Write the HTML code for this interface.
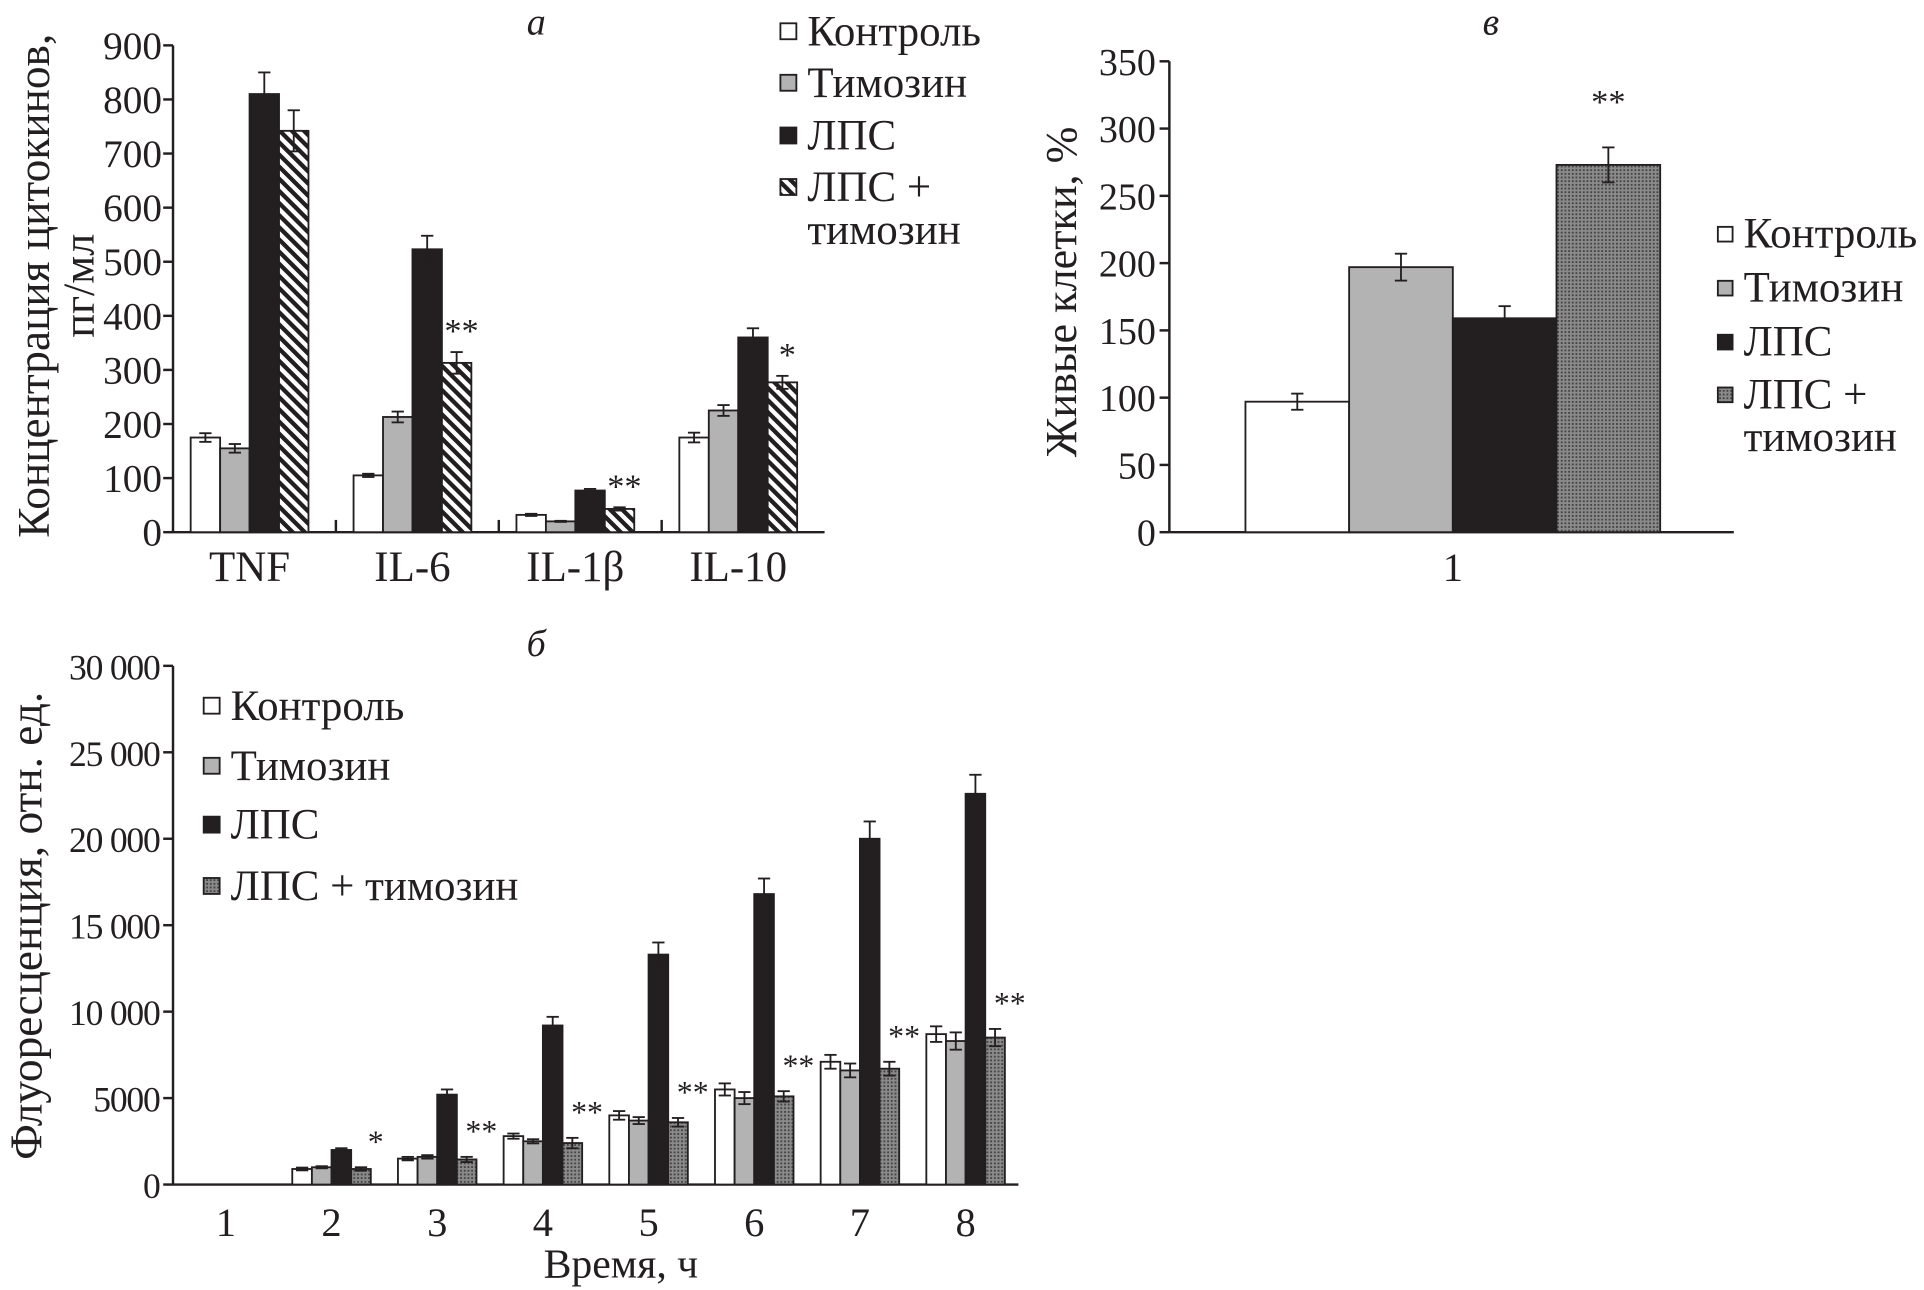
<!DOCTYPE html>
<html><head><meta charset="utf-8"><style>
html,body{margin:0;padding:0;background:#fff}
svg{display:block}
text{font-family:"Liberation Serif","DejaVu Serif",serif;fill:#231f20}
</style></head><body>
<svg id="fig" width="1924" height="1290" viewBox="0 0 1568 1052" preserveAspectRatio="none" xmlns="http://www.w3.org/2000/svg">
<defs>
<pattern id="hatch" width="7" height="7" patternUnits="userSpaceOnUse" patternTransform="rotate(-45)">
<rect width="7" height="7" fill="#fff"/><rect width="3.5" height="7" fill="#231f20"/></pattern>
<pattern id="dots" width="3" height="3" patternUnits="userSpaceOnUse">
<rect width="3" height="3" fill="#8a8a8a"/><rect width="1.5" height="1.5" fill="#444"/></pattern>
</defs>
<g id="ga"></g>
<g id="gb"></g>
<g id="gc"></g>
</svg>
<script>
// Chart a: cytokines
const catsA = ["TNF","IL-6","IL-1β","IL-10"];
const ctrlA = [175,105,32,175];
const thyA = [155,213,20,225];
const lpsA = [810,523,77,360];
const lpsThyA = [742,313,43,277];
const errCtrlA = [8,3,2,9];
const errThyA = [8,10,1,10];
const errLpsA = [40,25,3,17];
const errLpsThyA = [38,20,3,12];
const starsA = ["","**","**","*"];
const ticksA = [0,100,200,300,400,500,600,700,800,900];

// Chart b: fluorescence
const catsB = ["1","2","3","4","5","6","7","8"];
const ctrlB = [0,900,1500,2800,4000,5500,7100,8700];
const thyB = [0,1000,1600,2500,3700,5000,6600,8300];
const lpsB = [0,2000,5200,9200,13300,16800,20000,22600];
const lpsThyB = [0,900,1450,2400,3600,5100,6700,8500];
const errCtrlB = [0,80,100,150,250,350,400,450];
const errThyB = [0,60,100,120,200,350,400,500];
const errLpsB = [0,100,300,500,700,900,1000,1100];
const errLpsThyB = [0,100,150,300,250,300,400,500];
const starsB = ["","*","**","**","**","**","**","**"];
const ticksB = [0,5000,10000,15000,20000,25000,30000];
const tickLabelsB = ["0","5000","10 000","15 000","20 000","25 000","30 000"];

// Chart v: live cells
const catsV = ["1"];
const valsV = [97,197,159,273];
const errV = [6,10,9,13];
const starsV = ["**"];
const ticksV = [0,50,100,150,200,250,300,350];

const NS="http://www.w3.org/2000/svg";
function mk(p,tag,attrs,txt){const e=document.createElementNS(NS,tag);for(const k in attrs)e.setAttribute(k,attrs[k]);if(txt!==undefined)e.textContent=txt;p.appendChild(e);return e;}
const fills=["#fff","#b3b3b3","#231f20","url(#hatch)"];
const fillsB=["#fff","#b3b3b3","#231f20","url(#dots)"];
const sNames=["control","thymosin","lps","lps-thymosin"];

function axisY(g,x0,y0,yTop,max,ticks,labels,fs,lx,ls){
  const sy=v=>y0-(v/max)*(y0-yTop);
  let e=mk(g,"line",{x1:x0,y1:y0,x2:x0,y2:yTop,stroke:"#231f20","stroke-width":2});
  
  
  ticks.forEach((t,i)=>{
    mk(g,"line",{x1:x0-8,y1:sy(t),x2:x0,y2:sy(t),stroke:"#231f20","stroke-width":2});
    let tx=mk(g,"text",{x:lx,y:sy(t)+11,"text-anchor":"end","font-size":fs,"letter-spacing":ls||0},labels[i]);
    
    
  });
  return sy;
}
function bar(g,x,w,y0,yv,fill,name){
  const r=mk(g,"rect",{x:x,y:yv,width:w,height:Math.max(0,y0-yv),fill:fill,stroke:"#231f20","stroke-width":1.5});
  
  
}
function err(g,cx,y1,y2){
  mk(g,"line",{x1:cx,y1:y1,x2:cx,y2:y2,stroke:"#231f20","stroke-width":1.5});
  mk(g,"line",{x1:cx-5,y1:y1,x2:cx+5,y2:y1,stroke:"#231f20","stroke-width":1.5});
  mk(g,"line",{x1:cx-5,y1:y2,x2:cx+5,y2:y2,stroke:"#231f20","stroke-width":1.5});
}
function legend(g,x,ys,labels,fl,fs,sq){
  labels.forEach((l,i)=>{
    if(fl[i]){let r=mk(g,"rect",{x:x,y:ys[i]-sq+1,width:sq,height:sq,fill:fl[i],stroke:"#231f20","stroke-width":1.5});
      
      }
    let t=mk(g,"text",{x:x+sq+9,y:ys[i]+6,"font-size":fs},l);
    
    
  });
}

// ---- Chart a
(function(){
  const g=document.getElementById("ga");
  const x0=141,y0=434,yT=37,x1=672;
  const sy=axisY(g,x0,y0,yT,900,ticksA,ticksA.map(String),32,132);
  mk(g,"line",{x1:x0,y1:y0,x2:x1,y2:y0,stroke:"#231f20","stroke-width":2});
  const cw=(x1-x0)/catsA.length, bw=24;
  const series=[ctrlA,thyA,lpsA,lpsThyA], errs=[errCtrlA,errThyA,errLpsA,errLpsThyA];
  catsA.forEach((c,i)=>{
    const cx=x0+cw*(i+0.47);
    if(i>0) mk(g,"line",{x1:x0+cw*i,y1:y0,x2:x0+cw*i,y2:y0-10,stroke:"#231f20","stroke-width":2});
    series.forEach((s,j)=>{
      const bx=cx-2*bw+j*bw;
      bar(g,bx,bw,y0,sy(s[i]),fills[j],"bar-"+sNames[j]+"-"+c);
      err(g,bx+bw/2,sy(s[i]+errs[j][i]),sy(s[i]-errs[j][i]));
    });
    if(starsA[i]) mk(g,"text",{x:cx+bw*1.5+4,y:sy(lpsThyA[i]+errLpsThyA[i])-8,"text-anchor":"middle","font-size":28},starsA[i]);
    let t=mk(g,"text",{x:cx,y:474,"text-anchor":"middle","font-size":35},c);
    
    
  });
  let yl=mk(g,"text",{transform:"translate(40,233) rotate(-90)","text-anchor":"middle","font-size":37},"Концентрация цитокинов,");
  
  
  mk(g,"text",{transform:"translate(76,233) rotate(-90)","text-anchor":"middle","font-size":36},"пг/мл");
  let p=mk(g,"text",{x:437,y:28,"font-size":31,"font-style":"italic","text-anchor":"middle"},"а");
  
  
  legend(g,636,[31,73,116,158,193],["Контроль","Тимозин","ЛПС","ЛПС +","тимозин"],[fills[0],fills[1],fills[2],fills[3],null],35,13);
})();

// ---- Chart b
(function(){
  const g=document.getElementById("gb");
  const x0=141,y0=966,yT=543,x1=830;
  const sy=axisY(g,x0,y0,yT,30000,ticksB,tickLabelsB,29,130,-1);
  mk(g,"line",{x1:x0,y1:y0,x2:x1,y2:y0,stroke:"#231f20","stroke-width":2});
  const cw=(x1-x0)/catsB.length, bw=16;
  const series=[ctrlB,thyB,lpsB,lpsThyB], errs=[errCtrlB,errThyB,errLpsB,errLpsThyB];
  catsB.forEach((c,i)=>{
    const cx=x0+cw*(i+0.5);
    series.forEach((s,j)=>{
      if(s[i]<=0) return;
      const bx=cx-2*bw+j*bw;
      bar(g,bx,bw,y0,sy(s[i]),fillsB[j],"bar-"+sNames[j]+"-"+c);
      err(g,bx+bw/2,sy(s[i]+errs[j][i]),sy(s[i]-errs[j][i]));
    });
    if(starsB[i]) mk(g,"text",{x:cx+bw*2+4,y:sy(lpsThyB[i]+errLpsThyB[i])-12,"text-anchor":"middle","font-size":26},starsB[i]);
    let t=mk(g,"text",{x:cx,y:1008,"text-anchor":"middle","font-size":33},c);
    
    
  });
  let xl=mk(g,"text",{x:506,y:1042,"text-anchor":"middle","font-size":34},"Время, ч");
  
  
  let yl=mk(g,"text",{transform:"translate(34,755) rotate(-90)","text-anchor":"middle","font-size":37},"Флуоресценция, отн. ед.");
  
  
  let p=mk(g,"text",{x:437,y:535,"font-size":31,"font-style":"italic","text-anchor":"middle"},"б");
  
  
  legend(g,166,[581,630,678,728],["Контроль","Тимозин","ЛПС","ЛПС + тимозин"],fillsB,35,13);
})();

// ---- Chart v
(function(){
  const g=document.getElementById("gc");
  const x0=953,y0=434,yT=50,x1=1413;
  const sy=axisY(g,x0,y0,yT,350,ticksV,ticksV.map(String),31,942);
  mk(g,"line",{x1:x0,y1:y0,x2:x1,y2:y0,stroke:"#231f20","stroke-width":2});
  const bw=84.5, cx=1184;
  valsV.forEach((v,j)=>{
    const bx=cx-2*bw+j*bw;
    bar(g,bx,bw,y0,sy(v),fillsB[j],"bar-"+sNames[j]);
    err(g,bx+bw/2,sy(v+errV[j]),sy(v-errV[j]));
  });
  mk(g,"text",{x:cx+bw*1.5,y:sy(valsV[3]+errV[3])-28,"text-anchor":"middle","font-size":28},starsV[0]);
  let t=mk(g,"text",{x:cx,y:474,"text-anchor":"middle","font-size":33},catsV[0]);
  
  
  let yl=mk(g,"text",{transform:"translate(877,238) rotate(-90)","text-anchor":"middle","font-size":36},"Живые клетки, %");
  
  
  let p=mk(g,"text",{x:1215,y:28,"font-size":31,"font-style":"italic","text-anchor":"middle"},"в");
  
  
  legend(g,1400,[196,240,284,327,362],["Контроль","Тимозин","ЛПС","ЛПС +","тимозин"],[fillsB[0],fillsB[1],fillsB[2],fillsB[3],null],35,12);
})();
</script>
</body></html>
